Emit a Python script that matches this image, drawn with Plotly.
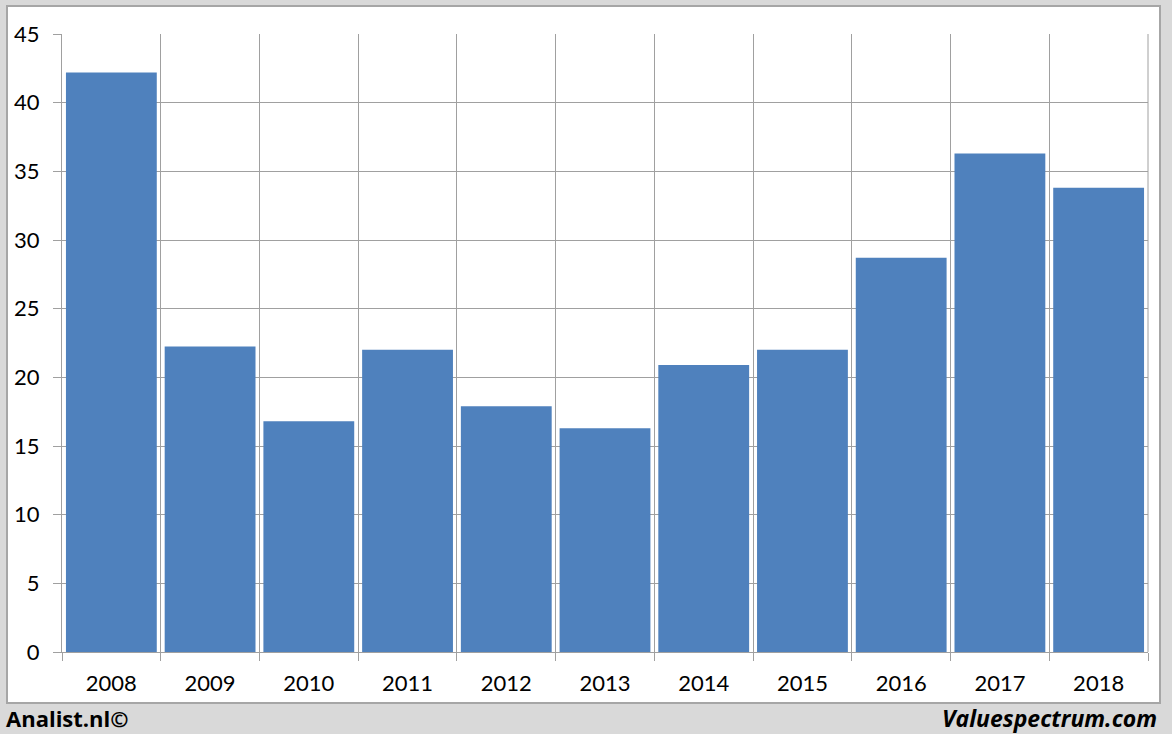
import plotly.graph_objects as go

years = ["2008", "2009", "2010", "2011", "2012", "2013", "2014", "2015", "2016", "2017", "2018"]
values = [42.2, 22.25, 16.8, 22.0, 17.9, 16.3, 20.9, 22.0, 28.7, 36.3, 33.8]
y_ticks = [0, 5, 10, 15, 20, 25, 30, 35, 40, 45]

W, H = 1172, 734
L, R, T, B = 62, 1148, 34, 652
pw, ph = R - L, B - T

def px2x(x):
    return (x - L) / pw

def px2y(y):
    return (B - y) / ph

grid = "#a0a0a0"
font_fam = "Lato, 'Open Sans', sans-serif"

fig = go.Figure()
fig.add_trace(go.Bar(x=years, y=values, marker=dict(color="#4f81bd", line=dict(width=0))))

fig.update_layout(
    width=W, height=H,
    margin=dict(l=L, r=W - R, t=T, b=H - B, pad=0),
    paper_bgcolor="#d9d9d9",
    plot_bgcolor="white",
    bargap=0.08,
    showlegend=False,
    font=dict(family=font_fam, size=22, color="black"),
    xaxis=dict(
        type="category", tickson="boundaries", showgrid=True, gridcolor=grid, gridwidth=1,
        ticks="outside", ticklen=8, tickcolor=grid, showline=True, linecolor=grid, mirror=False,
        tickfont=dict(size=22), range=[-0.5, 10.5], fixedrange=True, ticklabelstandoff=12,
    ),
    yaxis=dict(
        range=[0, 45], tickvals=y_ticks, showgrid=True, gridcolor=grid, gridwidth=1,
        ticks="outside", ticklen=8, tickcolor=grid, showline=True, linecolor=grid,
        zeroline=False, tickfont=dict(size=22), ticklabelstandoff=9,
    ),
    shapes=[
        dict(type="rect", xref="paper", yref="paper", layer="below",
             x0=px2x(7), x1=px2x(1160), y0=px2y(703), y1=px2y(6),
             fillcolor="white", line=dict(color="#a6a6a6", width=2)),
        dict(type="line", xref="paper", yref="paper", layer="below",
             x0=1, x1=1, y0=0, y1=1, line=dict(color=grid, width=1)),
    ],
    annotations=[
        dict(text="<b>Analist.nl©</b>", xref="paper", yref="paper",
             x=px2x(4), y=px2y(718), xanchor="left", yanchor="middle",
             showarrow=False, font=dict(size=22, family="'Open Sans', sans-serif")),
        dict(text="<b><i>Valuespectrum.com</i></b>", xref="paper", yref="paper",
             x=px2x(1159), y=px2y(718), xanchor="right", yanchor="middle",
             showarrow=False, font=dict(size=23, family="'Open Sans', sans-serif")),
    ],
)

fig.write_html("out.html", config={"displayModeBar": False},
               post_script="document.body.style.margin='0';document.body.style.overflow='hidden';")
